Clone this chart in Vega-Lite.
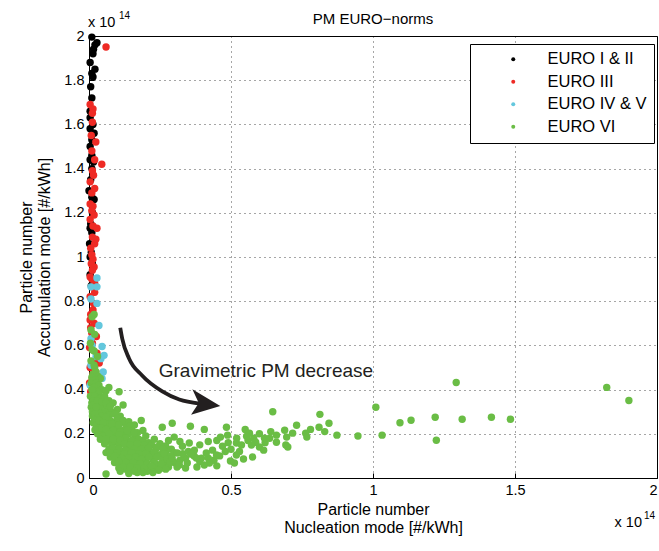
{
  "$schema": "https://vega.github.io/schema/vega-lite/v6.json",
  "width": 568,
  "height": 442,
  "autosize": {"type": "none"},
  "padding": {"left": 89, "top": 36, "right": 2, "bottom": 73},
  "background": "white",
  "config": {
    "font": "Liberation Sans",
    "view": {"stroke": "black", "strokeWidth": 1},
    "axis": {
      "domainColor": "black",
      "tickColor": "black",
      "tickSize": -5,
      "labelColor": "black",
      "labelFontSize": 14.5,
      "titleColor": "black",
      "titleFontSize": 16,
      "titleFontWeight": "normal",
      "gridColor": "black",
      "gridDash": [1, 4],
      "gridOpacity": 0.7,
      "gridWidth": 1
    }
  },
  "title": {"text": "PM EURO−norms", "fontSize": 15, "fontWeight": "normal", "color": "black", "offset": -16},
  "layer": [
    {
      "data": {"values": [
        {"nuc":0.01,"acc":1.995,"norm":"EURO I & II"},
        {"nuc":0.028,"acc":1.97,"norm":"EURO I & II"},
        {"nuc":0.021,"acc":1.96,"norm":"EURO I & II"},
        {"nuc":0.016,"acc":1.94,"norm":"EURO I & II"},
        {"nuc":0.014,"acc":1.92,"norm":"EURO I & II"},
        {"nuc":0.004,"acc":1.88,"norm":"EURO I & II"},
        {"nuc":0.021,"acc":1.85,"norm":"EURO I & II"},
        {"nuc":0.01,"acc":1.83,"norm":"EURO I & II"},
        {"nuc":0.014,"acc":1.815,"norm":"EURO I & II"},
        {"nuc":0.006,"acc":1.77,"norm":"EURO I & II"},
        {"nuc":0.01,"acc":1.72,"norm":"EURO I & II"},
        {"nuc":0.004,"acc":1.66,"norm":"EURO I & II"},
        {"nuc":0.004,"acc":1.63,"norm":"EURO I & II"},
        {"nuc":0.014,"acc":1.6,"norm":"EURO I & II"},
        {"nuc":0.004,"acc":1.58,"norm":"EURO I & II"},
        {"nuc":0.018,"acc":1.56,"norm":"EURO I & II"},
        {"nuc":0.01,"acc":1.53,"norm":"EURO I & II"},
        {"nuc":0.004,"acc":1.5,"norm":"EURO I & II"},
        {"nuc":0.01,"acc":1.46,"norm":"EURO I & II"},
        {"nuc":0.004,"acc":1.44,"norm":"EURO I & II"},
        {"nuc":0.016,"acc":1.43,"norm":"EURO I & II"},
        {"nuc":0.01,"acc":1.4,"norm":"EURO I & II"},
        {"nuc":0.006,"acc":1.35,"norm":"EURO I & II"},
        {"nuc":0.0,"acc":1.3,"norm":"EURO I & II"},
        {"nuc":0.01,"acc":1.27,"norm":"EURO I & II"},
        {"nuc":0.018,"acc":1.26,"norm":"EURO I & II"},
        {"nuc":0.012,"acc":1.2,"norm":"EURO I & II"},
        {"nuc":0.006,"acc":1.15,"norm":"EURO I & II"},
        {"nuc":0.004,"acc":1.13,"norm":"EURO I & II"},
        {"nuc":0.01,"acc":1.11,"norm":"EURO I & II"},
        {"nuc":0.002,"acc":1.06,"norm":"EURO I & II"},
        {"nuc":0.008,"acc":1.02,"norm":"EURO I & II"},
        {"nuc":0.004,"acc":1.0,"norm":"EURO I & II"},
        {"nuc":0.012,"acc":0.97,"norm":"EURO I & II"},
        {"nuc":0.004,"acc":0.92,"norm":"EURO I & II"},
        {"nuc":0.008,"acc":0.87,"norm":"EURO I & II"},

        {"nuc":0.06,"acc":1.95,"norm":"EURO III"},
        {"nuc":0.045,"acc":1.42,"norm":"EURO III"},
        {"nuc":0.004,"acc":1.69,"norm":"EURO III"},
        {"nuc":0.014,"acc":1.67,"norm":"EURO III"},
        {"nuc":0.012,"acc":1.65,"norm":"EURO III"},
        {"nuc":0.012,"acc":1.61,"norm":"EURO III"},
        {"nuc":0.008,"acc":1.55,"norm":"EURO III"},
        {"nuc":0.01,"acc":1.48,"norm":"EURO III"},
        {"nuc":0.012,"acc":1.39,"norm":"EURO III"},
        {"nuc":0.016,"acc":1.37,"norm":"EURO III"},
        {"nuc":0.004,"acc":1.34,"norm":"EURO III"},
        {"nuc":0.01,"acc":1.29,"norm":"EURO III"},
        {"nuc":0.004,"acc":1.24,"norm":"EURO III"},
        {"nuc":0.014,"acc":1.23,"norm":"EURO III"},
        {"nuc":0.01,"acc":1.21,"norm":"EURO III"},
        {"nuc":0.004,"acc":1.17,"norm":"EURO III"},
        {"nuc":0.014,"acc":1.14,"norm":"EURO III"},
        {"nuc":0.028,"acc":1.13,"norm":"EURO III"},
        {"nuc":0.012,"acc":1.09,"norm":"EURO III"},
        {"nuc":0.02,"acc":1.06,"norm":"EURO III"},
        {"nuc":0.006,"acc":1.04,"norm":"EURO III"},
        {"nuc":0.01,"acc":1.01,"norm":"EURO III"},
        {"nuc":0.014,"acc":0.99,"norm":"EURO III"},
        {"nuc":0.018,"acc":0.955,"norm":"EURO III"},
        {"nuc":0.012,"acc":0.94,"norm":"EURO III"},
        {"nuc":0.004,"acc":0.91,"norm":"EURO III"},
        {"nuc":0.01,"acc":0.9,"norm":"EURO III"},
        {"nuc":0.01,"acc":0.865,"norm":"EURO III"},
        {"nuc":0.02,"acc":0.84,"norm":"EURO III"},
        {"nuc":0.004,"acc":0.82,"norm":"EURO III"},
        {"nuc":0.016,"acc":0.79,"norm":"EURO III"},
        {"nuc":0.014,"acc":0.76,"norm":"EURO III"},
        {"nuc":0.006,"acc":0.74,"norm":"EURO III"},
        {"nuc":0.004,"acc":0.715,"norm":"EURO III"},
        {"nuc":0.018,"acc":0.7,"norm":"EURO III"},
        {"nuc":0.01,"acc":0.655,"norm":"EURO III"},
        {"nuc":0.026,"acc":0.64,"norm":"EURO III"},
        {"nuc":0.012,"acc":0.61,"norm":"EURO III"},
        {"nuc":0.002,"acc":0.59,"norm":"EURO III"},
        {"nuc":0.028,"acc":0.565,"norm":"EURO III"},
        {"nuc":0.021,"acc":0.53,"norm":"EURO III"},
        {"nuc":0.036,"acc":0.52,"norm":"EURO III"},
        {"nuc":0.004,"acc":0.5,"norm":"EURO III"},
        {"nuc":0.014,"acc":0.47,"norm":"EURO III"},
        {"nuc":0.012,"acc":0.45,"norm":"EURO III"},
        {"nuc":0.002,"acc":0.43,"norm":"EURO III"},
        {"nuc":0.006,"acc":0.39,"norm":"EURO III"},
        {"nuc":0.024,"acc":1.52,"norm":"EURO III"},
        {"nuc":0.02,"acc":1.44,"norm":"EURO III"},
        {"nuc":0.02,"acc":1.31,"norm":"EURO III"},
        {"nuc":0.018,"acc":1.19,"norm":"EURO III"},
        {"nuc":0.024,"acc":1.08,"norm":"EURO III"},
        {"nuc":0.008,"acc":0.97,"norm":"EURO III"},
        {"nuc":0.02,"acc":0.88,"norm":"EURO III"},
        {"nuc":0.006,"acc":0.68,"norm":"EURO III"},

        {"nuc":0.028,"acc":0.905,"norm":"EURO IV & V"},
        {"nuc":0.007,"acc":0.865,"norm":"EURO IV & V"},
        {"nuc":0.028,"acc":0.865,"norm":"EURO IV & V"},
        {"nuc":0.007,"acc":0.81,"norm":"EURO IV & V"},
        {"nuc":0.028,"acc":0.79,"norm":"EURO IV & V"},
        {"nuc":0.035,"acc":0.69,"norm":"EURO IV & V"},
        {"nuc":0.007,"acc":0.63,"norm":"EURO IV & V"},
        {"nuc":0.011,"acc":0.6,"norm":"EURO IV & V"},
        {"nuc":0.046,"acc":0.595,"norm":"EURO IV & V"},
        {"nuc":0.053,"acc":0.555,"norm":"EURO IV & V"},
        {"nuc":0.042,"acc":0.54,"norm":"EURO IV & V"},
        {"nuc":0.025,"acc":0.55,"norm":"EURO IV & V"},
        {"nuc":0.007,"acc":0.51,"norm":"EURO IV & V"},
        {"nuc":0.046,"acc":0.45,"norm":"EURO IV & V"},
        {"nuc":0.05,"acc":0.48,"norm":"EURO IV & V"},
        {"nuc":0.004,"acc":0.42,"norm":"EURO IV & V"},

        {"nuc":0.011,"acc":0.73,"norm":"EURO VI"},
        {"nuc":0.018,"acc":0.74,"norm":"EURO VI"},
        {"nuc":0.007,"acc":0.67,"norm":"EURO VI"},
        {"nuc":0.02,"acc":0.65,"norm":"EURO VI"},
        {"nuc":0.005,"acc":0.61,"norm":"EURO VI"},
        {"nuc":0.018,"acc":0.575,"norm":"EURO VI"},
        {"nuc":0.011,"acc":0.58,"norm":"EURO VI"},
        {"nuc":0.03,"acc":0.55,"norm":"EURO VI"},
        {"nuc":0.007,"acc":0.53,"norm":"EURO VI"},
        {"nuc":0.018,"acc":0.51,"norm":"EURO VI"},
        {"nuc":0.02,"acc":0.5,"norm":"EURO VI"},
        {"nuc":0.025,"acc":0.48,"norm":"EURO VI"},
        {"nuc":0.014,"acc":0.47,"norm":"EURO VI"},
        {"nuc":0.032,"acc":0.46,"norm":"EURO VI"},
        {"nuc":0.01,"acc":0.455,"norm":"EURO VI"},
        {"nuc":0.04,"acc":0.45,"norm":"EURO VI"},
        {"nuc":0.07,"acc":0.41,"norm":"EURO VI"},
        {"nuc":0.008,"acc":0.43,"norm":"EURO VI"},
        {"nuc":0.022,"acc":0.445,"norm":"EURO VI"},
        {"nuc":0.012,"acc":0.44,"norm":"EURO VI"},
        {"nuc":0.025,"acc":0.43,"norm":"EURO VI"},
        {"nuc":0.035,"acc":0.42,"norm":"EURO VI"},
        {"nuc":0.018,"acc":0.41,"norm":"EURO VI"},
        {"nuc":0.045,"acc":0.4,"norm":"EURO VI"},
        {"nuc":0.03,"acc":0.39,"norm":"EURO VI"},
        {"nuc":0.06,"acc":0.395,"norm":"EURO VI"},
        {"nuc":0.015,"acc":0.38,"norm":"EURO VI"},
        {"nuc":0.01,"acc":0.4,"norm":"EURO VI"},
        {"nuc":0.005,"acc":0.37,"norm":"EURO VI"},
        {"nuc":0.01,"acc":0.34,"norm":"EURO VI"},
        {"nuc":0.008,"acc":0.32,"norm":"EURO VI"},
        {"nuc":0.012,"acc":0.28,"norm":"EURO VI"},
        {"nuc":0.015,"acc":0.25,"norm":"EURO VI"},
        {"nuc":0.025,"acc":0.36,"norm":"EURO VI"},
        {"nuc":0.035,"acc":0.38,"norm":"EURO VI"},
        {"nuc":0.02,"acc":0.37,"norm":"EURO VI"},
        {"nuc":0.04,"acc":0.36,"norm":"EURO VI"},
        {"nuc":0.055,"acc":0.37,"norm":"EURO VI"},
        {"nuc":0.07,"acc":0.35,"norm":"EURO VI"},
        {"nuc":0.03,"acc":0.345,"norm":"EURO VI"},
        {"nuc":0.015,"acc":0.35,"norm":"EURO VI"},
        {"nuc":0.05,"acc":0.33,"norm":"EURO VI"},
        {"nuc":0.085,"acc":0.34,"norm":"EURO VI"},
        {"nuc":0.015,"acc":0.33,"norm":"EURO VI"},
        {"nuc":0.04,"acc":0.32,"norm":"EURO VI"},
        {"nuc":0.065,"acc":0.315,"norm":"EURO VI"},
        {"nuc":0.1,"acc":0.31,"norm":"EURO VI"},
        {"nuc":0.025,"acc":0.31,"norm":"EURO VI"},
        {"nuc":0.012,"acc":0.3,"norm":"EURO VI"},
        {"nuc":0.055,"acc":0.3,"norm":"EURO VI"},
        {"nuc":0.08,"acc":0.3,"norm":"EURO VI"},
        {"nuc":0.035,"acc":0.295,"norm":"EURO VI"},
        {"nuc":0.106,"acc":0.39,"norm":"EURO VI"},
        {"nuc":0.12,"acc":0.33,"norm":"EURO VI"},
        {"nuc":0.11,"acc":0.28,"norm":"EURO VI"},
        {"nuc":0.045,"acc":0.28,"norm":"EURO VI"},
        {"nuc":0.07,"acc":0.285,"norm":"EURO VI"},
        {"nuc":0.02,"acc":0.29,"norm":"EURO VI"},
        {"nuc":0.03,"acc":0.27,"norm":"EURO VI"},
        {"nuc":0.055,"acc":0.265,"norm":"EURO VI"},
        {"nuc":0.075,"acc":0.26,"norm":"EURO VI"},
        {"nuc":0.095,"acc":0.255,"norm":"EURO VI"},
        {"nuc":0.02,"acc":0.26,"norm":"EURO VI"},
        {"nuc":0.04,"acc":0.25,"norm":"EURO VI"},
        {"nuc":0.065,"acc":0.245,"norm":"EURO VI"},
        {"nuc":0.11,"acc":0.25,"norm":"EURO VI"},
        {"nuc":0.13,"acc":0.24,"norm":"EURO VI"},
        {"nuc":0.025,"acc":0.24,"norm":"EURO VI"},
        {"nuc":0.05,"acc":0.235,"norm":"EURO VI"},
        {"nuc":0.085,"acc":0.23,"norm":"EURO VI"},
        {"nuc":0.035,"acc":0.225,"norm":"EURO VI"},
        {"nuc":0.07,"acc":0.22,"norm":"EURO VI"},
        {"nuc":0.1,"acc":0.225,"norm":"EURO VI"},
        {"nuc":0.12,"acc":0.215,"norm":"EURO VI"},
        {"nuc":0.15,"acc":0.22,"norm":"EURO VI"},
        {"nuc":0.021,"acc":0.217,"norm":"EURO VI"},
        {"nuc":0.045,"acc":0.21,"norm":"EURO VI"},
        {"nuc":0.06,"acc":0.205,"norm":"EURO VI"},
        {"nuc":0.09,"acc":0.2,"norm":"EURO VI"},
        {"nuc":0.14,"acc":0.2,"norm":"EURO VI"},
        {"nuc":0.17,"acc":0.205,"norm":"EURO VI"},
        {"nuc":0.03,"acc":0.2,"norm":"EURO VI"},
        {"nuc":0.184,"acc":0.26,"norm":"EURO VI"},
        {"nuc":0.05,"acc":0.19,"norm":"EURO VI"},
        {"nuc":0.075,"acc":0.185,"norm":"EURO VI"},
        {"nuc":0.1,"acc":0.18,"norm":"EURO VI"},
        {"nuc":0.125,"acc":0.19,"norm":"EURO VI"},
        {"nuc":0.16,"acc":0.18,"norm":"EURO VI"},
        {"nuc":0.04,"acc":0.175,"norm":"EURO VI"},
        {"nuc":0.065,"acc":0.17,"norm":"EURO VI"},
        {"nuc":0.09,"acc":0.165,"norm":"EURO VI"},
        {"nuc":0.115,"acc":0.16,"norm":"EURO VI"},
        {"nuc":0.14,"acc":0.165,"norm":"EURO VI"},
        {"nuc":0.19,"acc":0.17,"norm":"EURO VI"},
        {"nuc":0.21,"acc":0.16,"norm":"EURO VI"},
        {"nuc":0.055,"acc":0.155,"norm":"EURO VI"},
        {"nuc":0.08,"acc":0.15,"norm":"EURO VI"},
        {"nuc":0.105,"acc":0.145,"norm":"EURO VI"},
        {"nuc":0.13,"acc":0.14,"norm":"EURO VI"},
        {"nuc":0.155,"acc":0.145,"norm":"EURO VI"},
        {"nuc":0.18,"acc":0.14,"norm":"EURO VI"},
        {"nuc":0.22,"acc":0.15,"norm":"EURO VI"},
        {"nuc":0.25,"acc":0.155,"norm":"EURO VI"},
        {"nuc":0.07,"acc":0.13,"norm":"EURO VI"},
        {"nuc":0.095,"acc":0.125,"norm":"EURO VI"},
        {"nuc":0.12,"acc":0.12,"norm":"EURO VI"},
        {"nuc":0.145,"acc":0.125,"norm":"EURO VI"},
        {"nuc":0.17,"acc":0.12,"norm":"EURO VI"},
        {"nuc":0.2,"acc":0.125,"norm":"EURO VI"},
        {"nuc":0.235,"acc":0.13,"norm":"EURO VI"},
        {"nuc":0.27,"acc":0.12,"norm":"EURO VI"},
        {"nuc":0.06,"acc":0.115,"norm":"EURO VI"},
        {"nuc":0.085,"acc":0.11,"norm":"EURO VI"},
        {"nuc":0.11,"acc":0.105,"norm":"EURO VI"},
        {"nuc":0.135,"acc":0.1,"norm":"EURO VI"},
        {"nuc":0.16,"acc":0.105,"norm":"EURO VI"},
        {"nuc":0.19,"acc":0.1,"norm":"EURO VI"},
        {"nuc":0.215,"acc":0.11,"norm":"EURO VI"},
        {"nuc":0.25,"acc":0.105,"norm":"EURO VI"},
        {"nuc":0.28,"acc":0.1,"norm":"EURO VI"},
        {"nuc":0.075,"acc":0.095,"norm":"EURO VI"},
        {"nuc":0.1,"acc":0.085,"norm":"EURO VI"},
        {"nuc":0.125,"acc":0.08,"norm":"EURO VI"},
        {"nuc":0.15,"acc":0.085,"norm":"EURO VI"},
        {"nuc":0.175,"acc":0.08,"norm":"EURO VI"},
        {"nuc":0.2,"acc":0.075,"norm":"EURO VI"},
        {"nuc":0.225,"acc":0.085,"norm":"EURO VI"},
        {"nuc":0.26,"acc":0.08,"norm":"EURO VI"},
        {"nuc":0.09,"acc":0.07,"norm":"EURO VI"},
        {"nuc":0.115,"acc":0.06,"norm":"EURO VI"},
        {"nuc":0.14,"acc":0.065,"norm":"EURO VI"},
        {"nuc":0.165,"acc":0.055,"norm":"EURO VI"},
        {"nuc":0.19,"acc":0.06,"norm":"EURO VI"},
        {"nuc":0.215,"acc":0.05,"norm":"EURO VI"},
        {"nuc":0.24,"acc":0.06,"norm":"EURO VI"},
        {"nuc":0.27,"acc":0.065,"norm":"EURO VI"},
        {"nuc":0.105,"acc":0.045,"norm":"EURO VI"},
        {"nuc":0.13,"acc":0.04,"norm":"EURO VI"},
        {"nuc":0.155,"acc":0.035,"norm":"EURO VI"},
        {"nuc":0.18,"acc":0.04,"norm":"EURO VI"},
        {"nuc":0.205,"acc":0.03,"norm":"EURO VI"},
        {"nuc":0.23,"acc":0.04,"norm":"EURO VI"},
        {"nuc":0.255,"acc":0.045,"norm":"EURO VI"},
        {"nuc":0.14,"acc":0.02,"norm":"EURO VI"},
        {"nuc":0.17,"acc":0.025,"norm":"EURO VI"},
        {"nuc":0.06,"acc":0.018,"norm":"EURO VI"},
        {"nuc":0.28,"acc":0.05,"norm":"EURO VI"},
        {"nuc":0.3,"acc":0.07,"norm":"EURO VI"},
        {"nuc":0.32,"acc":0.08,"norm":"EURO VI"},
        {"nuc":0.34,"acc":0.09,"norm":"EURO VI"},
        {"nuc":0.31,"acc":0.05,"norm":"EURO VI"},
        {"nuc":0.03,"acc":0.35,"norm":"EURO VI"},
        {"nuc":0.045,"acc":0.345,"norm":"EURO VI"},
        {"nuc":0.06,"acc":0.34,"norm":"EURO VI"},
        {"nuc":0.025,"acc":0.32,"norm":"EURO VI"},
        {"nuc":0.075,"acc":0.325,"norm":"EURO VI"},
        {"nuc":0.09,"acc":0.29,"norm":"EURO VI"},
        {"nuc":0.06,"acc":0.275,"norm":"EURO VI"},
        {"nuc":0.1,"acc":0.27,"norm":"EURO VI"},
        {"nuc":0.12,"acc":0.26,"norm":"EURO VI"},
        {"nuc":0.14,"acc":0.255,"norm":"EURO VI"},
        {"nuc":0.035,"acc":0.26,"norm":"EURO VI"},
        {"nuc":0.05,"acc":0.25,"norm":"EURO VI"},
        {"nuc":0.08,"acc":0.245,"norm":"EURO VI"},
        {"nuc":0.105,"acc":0.24,"norm":"EURO VI"},
        {"nuc":0.145,"acc":0.235,"norm":"EURO VI"},
        {"nuc":0.16,"acc":0.24,"norm":"EURO VI"},
        {"nuc":0.045,"acc":0.225,"norm":"EURO VI"},
        {"nuc":0.06,"acc":0.22,"norm":"EURO VI"},
        {"nuc":0.085,"acc":0.215,"norm":"EURO VI"},
        {"nuc":0.11,"acc":0.21,"norm":"EURO VI"},
        {"nuc":0.135,"acc":0.215,"norm":"EURO VI"},
        {"nuc":0.16,"acc":0.205,"norm":"EURO VI"},
        {"nuc":0.19,"acc":0.215,"norm":"EURO VI"},
        {"nuc":0.2,"acc":0.19,"norm":"EURO VI"},
        {"nuc":0.07,"acc":0.2,"norm":"EURO VI"},
        {"nuc":0.105,"acc":0.195,"norm":"EURO VI"},
        {"nuc":0.13,"acc":0.18,"norm":"EURO VI"},
        {"nuc":0.15,"acc":0.17,"norm":"EURO VI"},
        {"nuc":0.175,"acc":0.175,"norm":"EURO VI"},
        {"nuc":0.23,"acc":0.175,"norm":"EURO VI"},
        {"nuc":0.06,"acc":0.175,"norm":"EURO VI"},
        {"nuc":0.085,"acc":0.175,"norm":"EURO VI"},
        {"nuc":0.11,"acc":0.17,"norm":"EURO VI"},
        {"nuc":0.125,"acc":0.155,"norm":"EURO VI"},
        {"nuc":0.145,"acc":0.15,"norm":"EURO VI"},
        {"nuc":0.17,"acc":0.155,"norm":"EURO VI"},
        {"nuc":0.195,"acc":0.15,"norm":"EURO VI"},
        {"nuc":0.24,"acc":0.14,"norm":"EURO VI"},
        {"nuc":0.27,"acc":0.145,"norm":"EURO VI"},
        {"nuc":0.085,"acc":0.135,"norm":"EURO VI"},
        {"nuc":0.105,"acc":0.13,"norm":"EURO VI"},
        {"nuc":0.13,"acc":0.125,"norm":"EURO VI"},
        {"nuc":0.16,"acc":0.13,"norm":"EURO VI"},
        {"nuc":0.185,"acc":0.13,"norm":"EURO VI"},
        {"nuc":0.21,"acc":0.135,"norm":"EURO VI"},
        {"nuc":0.26,"acc":0.13,"norm":"EURO VI"},
        {"nuc":0.29,"acc":0.13,"norm":"EURO VI"},
        {"nuc":0.075,"acc":0.115,"norm":"EURO VI"},
        {"nuc":0.1,"acc":0.115,"norm":"EURO VI"},
        {"nuc":0.125,"acc":0.11,"norm":"EURO VI"},
        {"nuc":0.15,"acc":0.115,"norm":"EURO VI"},
        {"nuc":0.175,"acc":0.11,"norm":"EURO VI"},
        {"nuc":0.2,"acc":0.11,"norm":"EURO VI"},
        {"nuc":0.23,"acc":0.115,"norm":"EURO VI"},
        {"nuc":0.265,"acc":0.11,"norm":"EURO VI"},
        {"nuc":0.3,"acc":0.115,"norm":"EURO VI"},
        {"nuc":0.09,"acc":0.1,"norm":"EURO VI"},
        {"nuc":0.115,"acc":0.09,"norm":"EURO VI"},
        {"nuc":0.14,"acc":0.09,"norm":"EURO VI"},
        {"nuc":0.165,"acc":0.095,"norm":"EURO VI"},
        {"nuc":0.185,"acc":0.085,"norm":"EURO VI"},
        {"nuc":0.21,"acc":0.095,"norm":"EURO VI"},
        {"nuc":0.24,"acc":0.095,"norm":"EURO VI"},
        {"nuc":0.275,"acc":0.085,"norm":"EURO VI"},
        {"nuc":0.33,"acc":0.11,"norm":"EURO VI"},
        {"nuc":0.105,"acc":0.075,"norm":"EURO VI"},
        {"nuc":0.13,"acc":0.07,"norm":"EURO VI"},
        {"nuc":0.155,"acc":0.07,"norm":"EURO VI"},
        {"nuc":0.18,"acc":0.065,"norm":"EURO VI"},
        {"nuc":0.205,"acc":0.065,"norm":"EURO VI"},
        {"nuc":0.23,"acc":0.07,"norm":"EURO VI"},
        {"nuc":0.255,"acc":0.065,"norm":"EURO VI"},
        {"nuc":0.285,"acc":0.075,"norm":"EURO VI"},
        {"nuc":0.12,"acc":0.05,"norm":"EURO VI"},
        {"nuc":0.145,"acc":0.05,"norm":"EURO VI"},
        {"nuc":0.17,"acc":0.045,"norm":"EURO VI"},
        {"nuc":0.195,"acc":0.045,"norm":"EURO VI"},
        {"nuc":0.22,"acc":0.055,"norm":"EURO VI"},
        {"nuc":0.245,"acc":0.035,"norm":"EURO VI"},
        {"nuc":0.27,"acc":0.04,"norm":"EURO VI"},
        {"nuc":0.16,"acc":0.03,"norm":"EURO VI"},
        {"nuc":0.19,"acc":0.025,"norm":"EURO VI"},
        {"nuc":0.225,"acc":0.025,"norm":"EURO VI"},
        {"nuc":0.11,"acc":0.03,"norm":"EURO VI"},
        {"nuc":0.35,"acc":0.12,"norm":"EURO VI"},
        {"nuc":0.37,"acc":0.1,"norm":"EURO VI"},
        {"nuc":0.39,"acc":0.075,"norm":"EURO VI"},
        {"nuc":0.42,"acc":0.09,"norm":"EURO VI"},
        {"nuc":0.44,"acc":0.08,"norm":"EURO VI"},
        {"nuc":0.46,"acc":0.1,"norm":"EURO VI"},
        {"nuc":0.48,"acc":0.12,"norm":"EURO VI"},
        {"nuc":0.45,"acc":0.055,"norm":"EURO VI"},
        {"nuc":0.38,"acc":0.05,"norm":"EURO VI"},
        {"nuc":0.34,"acc":0.045,"norm":"EURO VI"},
        {"nuc":0.5,"acc":0.13,"norm":"EURO VI"},
        {"nuc":0.53,"acc":0.12,"norm":"EURO VI"},
        {"nuc":0.56,"acc":0.17,"norm":"EURO VI"},
        {"nuc":0.6,"acc":0.14,"norm":"EURO VI"},
        {"nuc":0.62,"acc":0.16,"norm":"EURO VI"},
        {"nuc":0.6,"acc":0.2,"norm":"EURO VI"},
        {"nuc":0.64,"acc":0.21,"norm":"EURO VI"},
        {"nuc":0.58,"acc":0.18,"norm":"EURO VI"},
        {"nuc":0.55,"acc":0.22,"norm":"EURO VI"},
        {"nuc":0.52,"acc":0.18,"norm":"EURO VI"},
        {"nuc":0.49,"acc":0.16,"norm":"EURO VI"},
        {"nuc":0.39,"acc":0.15,"norm":"EURO VI"},
        {"nuc":0.42,"acc":0.165,"norm":"EURO VI"},
        {"nuc":0.45,"acc":0.17,"norm":"EURO VI"},
        {"nuc":0.32,"acc":0.165,"norm":"EURO VI"},
        {"nuc":0.3,"acc":0.185,"norm":"EURO VI"},
        {"nuc":0.28,"acc":0.17,"norm":"EURO VI"},
        {"nuc":0.258,"acc":0.23,"norm":"EURO VI"},
        {"nuc":0.293,"acc":0.248,"norm":"EURO VI"},
        {"nuc":0.357,"acc":0.234,"norm":"EURO VI"},
        {"nuc":0.406,"acc":0.22,"norm":"EURO VI"},
        {"nuc":0.484,"acc":0.23,"norm":"EURO VI"},
        {"nuc":0.463,"acc":0.185,"norm":"EURO VI"},
        {"nuc":0.488,"acc":0.194,"norm":"EURO VI"},
        {"nuc":0.647,"acc":0.3,"norm":"EURO VI"},
        {"nuc":0.565,"acc":0.203,"norm":"EURO VI"},
        {"nuc":0.555,"acc":0.189,"norm":"EURO VI"},
        {"nuc":0.618,"acc":0.18,"norm":"EURO VI"},
        {"nuc":0.66,"acc":0.194,"norm":"EURO VI"},
        {"nuc":0.587,"acc":0.162,"norm":"EURO VI"},
        {"nuc":0.519,"acc":0.158,"norm":"EURO VI"},
        {"nuc":0.537,"acc":0.149,"norm":"EURO VI"},
        {"nuc":0.572,"acc":0.149,"norm":"EURO VI"},
        {"nuc":0.615,"acc":0.126,"norm":"EURO VI"},
        {"nuc":0.576,"acc":0.095,"norm":"EURO VI"},
        {"nuc":0.544,"acc":0.086,"norm":"EURO VI"},
        {"nuc":0.519,"acc":0.104,"norm":"EURO VI"},
        {"nuc":0.498,"acc":0.077,"norm":"EURO VI"},
        {"nuc":0.512,"acc":0.068,"norm":"EURO VI"},
        {"nuc":0.47,"acc":0.144,"norm":"EURO VI"},
        {"nuc":0.435,"acc":0.126,"norm":"EURO VI"},
        {"nuc":0.413,"acc":0.113,"norm":"EURO VI"},
        {"nuc":0.424,"acc":0.068,"norm":"EURO VI"},
        {"nuc":0.406,"acc":0.059,"norm":"EURO VI"},
        {"nuc":0.371,"acc":0.126,"norm":"EURO VI"},
        {"nuc":0.353,"acc":0.158,"norm":"EURO VI"},
        {"nuc":0.378,"acc":0.09,"norm":"EURO VI"},
        {"nuc":0.346,"acc":0.068,"norm":"EURO VI"},
        {"nuc":0.311,"acc":0.113,"norm":"EURO VI"},
        {"nuc":0.293,"acc":0.09,"norm":"EURO VI"},
        {"nuc":0.318,"acc":0.059,"norm":"EURO VI"},
        {"nuc":0.329,"acc":0.144,"norm":"EURO VI"},
        {"nuc":0.36,"acc":0.108,"norm":"EURO VI"},
        {"nuc":0.396,"acc":0.09,"norm":"EURO VI"},
        {"nuc":0.449,"acc":0.104,"norm":"EURO VI"},
        {"nuc":0.813,"acc":0.288,"norm":"EURO VI"},
        {"nuc":1.01,"acc":0.32,"norm":"EURO VI"},
        {"nuc":1.095,"acc":0.25,"norm":"EURO VI"},
        {"nuc":0.845,"acc":0.248,"norm":"EURO VI"},
        {"nuc":0.731,"acc":0.239,"norm":"EURO VI"},
        {"nuc":0.78,"acc":0.22,"norm":"EURO VI"},
        {"nuc":0.81,"acc":0.23,"norm":"EURO VI"},
        {"nuc":0.83,"acc":0.21,"norm":"EURO VI"},
        {"nuc":0.873,"acc":0.194,"norm":"EURO VI"},
        {"nuc":0.947,"acc":0.19,"norm":"EURO VI"},
        {"nuc":1.032,"acc":0.194,"norm":"EURO VI"},
        {"nuc":0.689,"acc":0.216,"norm":"EURO VI"},
        {"nuc":0.717,"acc":0.203,"norm":"EURO VI"},
        {"nuc":0.763,"acc":0.203,"norm":"EURO VI"},
        {"nuc":0.767,"acc":0.185,"norm":"EURO VI"},
        {"nuc":0.66,"acc":0.162,"norm":"EURO VI"},
        {"nuc":0.636,"acc":0.18,"norm":"EURO VI"},
        {"nuc":0.693,"acc":0.149,"norm":"EURO VI"},
        {"nuc":0.7,"acc":0.14,"norm":"EURO VI"},
        {"nuc":0.696,"acc":0.185,"norm":"EURO VI"},
        {"nuc":1.134,"acc":0.261,"norm":"EURO VI"},
        {"nuc":1.219,"acc":0.275,"norm":"EURO VI"},
        {"nuc":1.223,"acc":0.171,"norm":"EURO VI"},
        {"nuc":1.293,"acc":0.432,"norm":"EURO VI"},
        {"nuc":1.314,"acc":0.266,"norm":"EURO VI"},
        {"nuc":1.417,"acc":0.275,"norm":"EURO VI"},
        {"nuc":1.484,"acc":0.266,"norm":"EURO VI"},
        {"nuc":1.823,"acc":0.41,"norm":"EURO VI"},
        {"nuc":1.901,"acc":0.351,"norm":"EURO VI"}
      ]},
      "mark": {"type": "point", "filled": true, "size": 55, "opacity": 1, "strokeWidth": 0},
      "encoding": {
        "x": {
          "field": "nuc", "type": "quantitative",
          "scale": {"domain": [0, 2], "nice": false, "zero": false},
          "axis": {
            "values": [0, 0.5, 1, 1.5, 2], "format": "~g", "grid": true,
            "labelPadding": 10,
            "title": ["Particle number", "Nucleation mode [#/kWh]"],
            "titlePadding": 5
          }
        },
        "y": {
          "field": "acc", "type": "quantitative",
          "scale": {"domain": [0, 2], "nice": false, "zero": false},
          "axis": {
            "values": [0, 0.2, 0.4, 0.6, 0.8, 1, 1.2, 1.4, 1.6, 1.8, 2], "format": "~g", "grid": true,
            "labelPadding": 10,
            "title": ["Particle number", "Accumulation mode [#/kWh]"],
            "titlePadding": 11
          }
        },
        "color": {
          "field": "norm", "type": "nominal",
          "scale": {"domain": ["EURO I & II", "EURO III", "EURO IV & V", "EURO VI"], "range": ["#000000", "#ee2a24", "#63c7dd", "#6abd45"]},
          "legend": {
            "title": null, "orient": "none", "legendX": 381, "legendY": 8,
            "symbolType": "circle", "symbolSize": 16, "symbolOffset": 28,
            "labelOffset": 26, "labelFontSize": 16.5, "labelColor": "black",
            "rowPadding": 5.5, "padding": 7,
            "strokeColor": "black", "fillColor": "white"
          }
        }
      }
    },
    {
      "data": {"values": [
        {"nuc": 0.11, "acc": 0.68},
        {"nuc": 0.117, "acc": 0.631},
        {"nuc": 0.141, "acc": 0.541},
        {"nuc": 0.187, "acc": 0.464},
        {"nuc": 0.258, "acc": 0.392},
        {"nuc": 0.318, "acc": 0.355},
        {"nuc": 0.389, "acc": 0.337}
      ]},
      "mark": {"type": "line", "color": "#231f20", "strokeWidth": 3.8, "interpolate": "monotone"},
      "encoding": {
        "x": {"field": "nuc", "type": "quantitative"},
        "y": {"field": "acc", "type": "quantitative"}
      }
    },
    {
      "data": {"values": [{"nuc": 0.41, "acc": 0.335}]},
      "mark": {"type": "point", "filled": true, "color": "#231f20", "opacity": 1, "size": 900, "angle": 8,
               "shape": "M -1 -0.85 L 1 0 L -0.85 0.85 L -0.45 0 Z"},
      "encoding": {
        "x": {"field": "nuc", "type": "quantitative"},
        "y": {"field": "acc", "type": "quantitative"}
      }
    },
    {
      "data": {"values": [{"nuc": 0.623, "acc": 0.484, "label": "Gravimetric PM decrease"}]},
      "mark": {"type": "text", "fontSize": 19, "color": "#231f20", "align": "center", "baseline": "middle"},
      "encoding": {
        "x": {"field": "nuc", "type": "quantitative"},
        "y": {"field": "acc", "type": "quantitative"},
        "text": {"field": "label"}
      }
    },
    {
      "data": {"values": [{"nuc": 0, "acc": 2, "label": "x 10"}]},
      "mark": {"type": "text", "fontSize": 14.5, "color": "black", "align": "left", "baseline": "middle", "dx": -1, "dy": -13},
      "encoding": {
        "x": {"field": "nuc", "type": "quantitative"},
        "y": {"field": "acc", "type": "quantitative"},
        "text": {"field": "label"}
      }
    },
    {
      "data": {"values": [{"nuc": 0, "acc": 2, "label": "14"}]},
      "mark": {"type": "text", "fontSize": 10, "color": "black", "align": "left", "baseline": "middle", "dx": 30, "dy": -20},
      "encoding": {
        "x": {"field": "nuc", "type": "quantitative"},
        "y": {"field": "acc", "type": "quantitative"},
        "text": {"field": "label"}
      }
    },
    {
      "data": {"values": [{"nuc": 2, "acc": 0, "label": "x 10"}]},
      "mark": {"type": "text", "fontSize": 14.5, "color": "black", "align": "right", "baseline": "middle", "dx": -15, "dy": 45},
      "encoding": {
        "x": {"field": "nuc", "type": "quantitative"},
        "y": {"field": "acc", "type": "quantitative"},
        "text": {"field": "label"}
      }
    },
    {
      "data": {"values": [{"nuc": 2, "acc": 0, "label": "14"}]},
      "mark": {"type": "text", "fontSize": 10, "color": "black", "align": "right", "baseline": "middle", "dx": -2, "dy": 38},
      "encoding": {
        "x": {"field": "nuc", "type": "quantitative"},
        "y": {"field": "acc", "type": "quantitative"},
        "text": {"field": "label"}
      }
    }
  ]
}
